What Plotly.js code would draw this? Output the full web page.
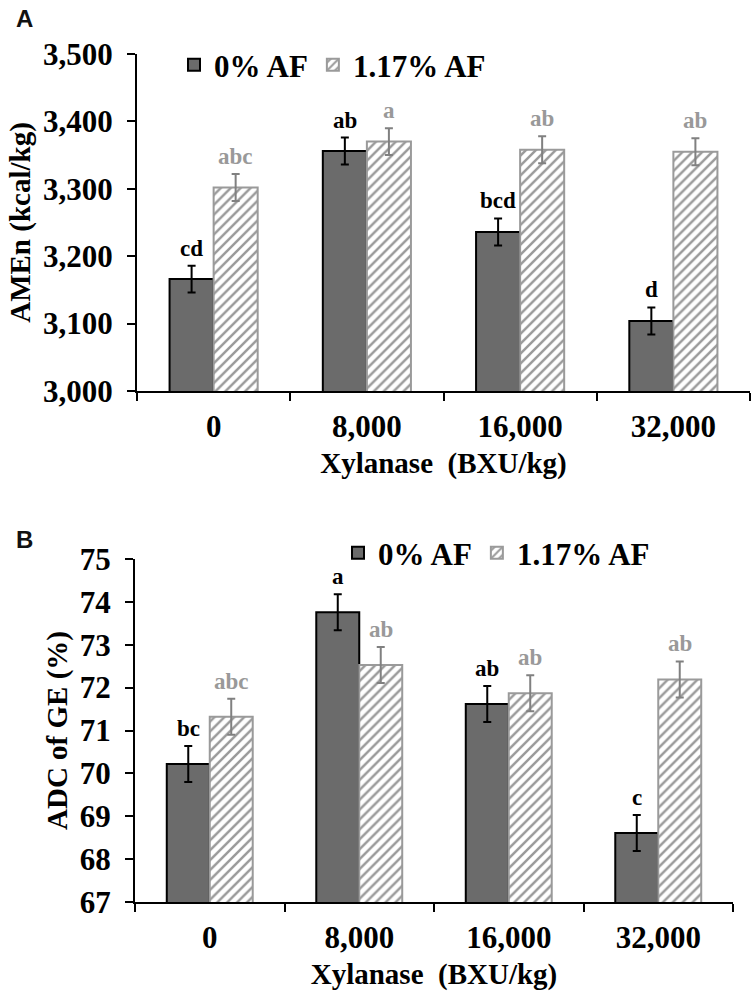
<!DOCTYPE html>
<html>
<head>
<meta charset="utf-8">
<script src="https://cdn.plot.ly/plotly-3.0.1.min.js"></script>
<style>html,body{margin:0;padding:0;background:#fff;}#chart{width:751px;height:999px;}</style>
</head>
<body>
<div id="chart"></div>
<script>
// ---- data ----
const categories = ["0", "8,000", "16,000", "32,000"];
const seriesNames = ["0% AF", "1.17% AF"];

const amen_af0 = [3166, 3356, 3236, 3104];
const amen_af0_err = [20, 20, 20, 20];
const amen_af117 = [3302, 3370, 3358, 3355];
const amen_af117_err = [20, 20, 20, 20];
const amen_af0_letters = ["cd", "ab", "bcd", "d"];
const amen_af117_letters = ["abc", "a", "ab", "ab"];

const adc_af0 = [70.22, 73.76, 71.62, 68.61];
const adc_af0_err = [0.42, 0.42, 0.42, 0.42];
const adc_af117 = [71.32, 72.53, 71.87, 72.19];
const adc_af117_err = [0.42, 0.42, 0.42, 0.42];
const adc_af0_letters = ["bc", "a", "ab", "c"];
const adc_af117_letters = ["abc", "ab", "ab", "ab"];

// ---- styles ----
const SERIF = "Liberation Serif, Times New Roman, serif";
const DARK = "#6b6b6b";
const HATCH = "#9a9a9a";
const GRAYTXT = "#999999";

function darkTrace(y, err, xa, ya, leg) {
  return {
    type: "bar", name: seriesNames[0], x: categories, y: y, xaxis: xa, yaxis: ya, legend: leg,
    marker: {color: DARK, line: {color: "#000", width: 2}},
    error_y: {type: "data", array: err, visible: true, color: "#000", thickness: 2, width: 4},
    hoverinfo: "y"
  };
}
function hatchTrace(y, err, xa, ya, leg) {
  return {
    type: "bar", name: seriesNames[1], x: categories, y: y, xaxis: xa, yaxis: ya, legend: leg,
    marker: {color: "#ffffff", line: {color: HATCH, width: 2},
             pattern: {shape: "/", fgcolor: HATCH, bgcolor: "#ffffff", size: 7, solidity: 0.35}},
    error_y: {type: "data", array: err, visible: true, color: "#808080", thickness: 2, width: 4},
    hoverinfo: "y"
  };
}

const data = [
  darkTrace(amen_af0, amen_af0_err, "x", "y", "legend"),
  hatchTrace(amen_af117, amen_af117_err, "x", "y", "legend"),
  darkTrace(adc_af0, adc_af0_err, "x2", "y2", "legend2"),
  hatchTrace(adc_af117, adc_af117_err, "x2", "y2", "legend2")
];

const OFF = 0.14375; // half of one bar's width in category units (group = 0.575)
const annotations = [];
function addLetters(vals, errs, letters, sign, xref, yref, color) {
  for (let i = 0; i < categories.length; i++) {
    annotations.push({
      xref: xref, yref: yref, x: i + sign * OFF, y: vals[i] + errs[i],
      text: letters[i], showarrow: false, yanchor: "bottom", yshift: 3,
      font: {family: SERIF, size: 23, color: color, weight: "bold"}
    });
  }
}
addLetters(amen_af0, amen_af0_err, amen_af0_letters, -1, "x", "y", "#000");
addLetters(amen_af117, amen_af117_err, amen_af117_letters, 1, "x", "y", GRAYTXT);
addLetters(adc_af0, adc_af0_err, adc_af0_letters, -1, "x2", "y2", "#000");
addLetters(adc_af117, adc_af117_err, adc_af117_letters, 1, "x2", "y2", GRAYTXT);

annotations.push({xref: "paper", yref: "paper", x: 14/751, y: 1 - 3/999, xanchor: "left", yanchor: "top",
  text: "<b>A</b>", showarrow: false, font: {family: "Liberation Sans, Arial, sans-serif", size: 24, color: "#111"}});
annotations.push({xref: "paper", yref: "paper", x: 14/751, y: 1 - 524/999, xanchor: "left", yanchor: "top",
  text: "<b>B</b>", showarrow: false, font: {family: "Liberation Sans, Arial, sans-serif", size: 24, color: "#111"}});

const tickFont = {family: SERIF, size: 31, color: "#000", weight: "bold"};
const titleFont = {family: SERIF, size: 29, color: "#000", weight: "bold"};

function xAxis(domain, anchor) {
  return {
    domain: domain, anchor: anchor, type: "category",
    showline: true, linecolor: "#000", linewidth: 2,
    ticks: "outside", tickson: "boundaries", ticklen: 8, tickwidth: 2, tickcolor: "#000",
    tickfont: tickFont, ticklabelstandoff: 7, showgrid: false, zeroline: false,
    title: {text: "Xylanase\u00a0\u00a0(BXU/kg)", font: titleFont, standoff: 9},
    fixedrange: true
  };
}
function yAxis(domain, anchor, range, dtick, title, fmt) {
  return {
    domain: domain, anchor: anchor, range: range, dtick: dtick, tick0: range[0],
    showline: true, linecolor: "#000", linewidth: 2,
    ticks: "outside", ticklen: 8, tickwidth: 2, tickcolor: "#000",
    tickfont: tickFont, ticklabelstandoff: 8, tickformat: fmt,
    showgrid: false, zeroline: false,
    title: {text: title, font: titleFont, standoff: 4},
    fixedrange: true
  };
}

const legendBase = {
  orientation: "h", xanchor: "left", yanchor: "middle", bgcolor: "rgba(0,0,0,0)",
  font: {family: SERIF, size: 31, color: "#000", weight: "bold"},
  itemwidth: 30, tracegroupgap: 0, itemclick: false, itemdoubleclick: false
};

const layout = {
  width: 751, height: 999,
  margin: {l: 0, r: 0, t: 0, b: 0},
  paper_bgcolor: "#fff", plot_bgcolor: "#fff",
  barmode: "group", bargap: 0.425, bargroupgap: 0,
  showlegend: true,
  xaxis: xAxis([137/751, 750/751], "y"),
  yaxis: yAxis([1 - 391/999, 1 - 54/999], "x", [3000, 3500], 100, "AMEn (kcal/kg)", ",d"),
  xaxis2: xAxis([135/751, 733/751], "y2"),
  yaxis2: yAxis([1 - 902/999, 1 - 559/999], "x2", [67, 75], 1, "ADC of GE (%)", "d"),
  legend: Object.assign({}, legendBase, {x: 174/751, y: 1 - 65/999}),
  legend2: Object.assign({}, legendBase, {x: 338/751, y: 1 - 553/999}),
  annotations: annotations
};

Plotly.newPlot("chart", data, layout, {displayModeBar: false, staticPlot: true});
</script>
</body>
</html>
